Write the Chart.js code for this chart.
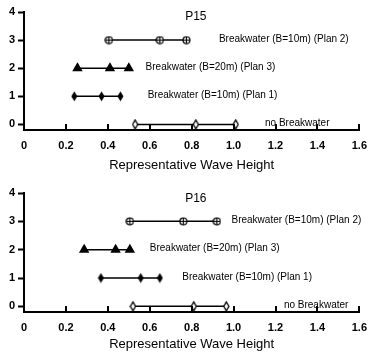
<!DOCTYPE html>
<html>
<head>
<meta charset="utf-8">
<script src="https://cdn.jsdelivr.net/npm/chart.js@4"></script>
<style>
  body { margin: 0; background: #fff; }
  .panel { position: absolute; left: 0; width: 368px; height: 176px; }
</style>
</head>
<body>
<div class="panel" style="top:0"><canvas id="p15" width="368" height="176"></canvas></div>
<div class="panel" style="top:176px"><canvas id="p16" width="368" height="176"></canvas></div>
<script>
const xTicks = [0, 0.2, 0.4, 0.6, 0.8, 1.0, 1.2, 1.4, 1.6];
const yTicks = [0, 1, 2, 3, 4];
const seriesNames = ["Breakwater (B=10m) (Plan 2)", "Breakwater (B=20m) (Plan 3)", "Breakwater (B=10m) (Plan 1)", "no Breakwater"];
const seriesLevels = [3, 2, 1, 0];

// P15
const p15Plan2 = [0.405, 0.648, 0.775];
const p15Plan3 = [0.255, 0.41, 0.50];
const p15Plan1 = [0.24, 0.37, 0.46];
const p15None = [0.53, 0.82, 1.01];
const p15LabelX = [0.93, 0.58, 0.59, 1.15];

// P16
const p16Plan2 = [0.505, 0.76, 0.92];
const p16Plan3 = [0.287, 0.437, 0.505];
const p16Plan1 = [0.367, 0.557, 0.648];
const p16None = [0.52, 0.81, 0.965];
const p16LabelX = [0.99, 0.60, 0.755, 1.24];

const FONT = "'Liberation Sans', Arial, sans-serif";

// marker images
const makeMarker = (w, h, draw) => {
  const c = document.createElement("canvas");
  c.width = w;
  c.height = h;
  draw(c.getContext("2d"), w, h);
  return c;
};
const circleCross = makeMarker(9, 9, (g, w, h) => {
  g.strokeStyle = "#000";
  g.lineWidth = 1.2;
  g.fillStyle = "#fff";
  g.beginPath();
  g.arc(4.5, 4.5, 3.5, 0, Math.PI * 2);
  g.fill();
  g.stroke();
  g.beginPath();
  g.moveTo(1, 4.5); g.lineTo(8, 4.5);
  g.moveTo(4.5, 1); g.lineTo(4.5, 8);
  g.stroke();
});
const diamondFilled = makeMarker(7, 11, (g, w, h) => {
  g.fillStyle = "#000";
  g.beginPath();
  g.moveTo(3.5, 0.5); g.lineTo(6.5, 5.5); g.lineTo(3.5, 10.5); g.lineTo(0.5, 5.5);
  g.closePath();
  g.fill();
});
const diamondOpen = makeMarker(7, 11, (g, w, h) => {
  g.fillStyle = "#fff";
  g.strokeStyle = "#000";
  g.lineWidth = 1.3;
  g.beginPath();
  g.moveTo(3.5, 1); g.lineTo(6, 5.5); g.lineTo(3.5, 10); g.lineTo(1, 5.5);
  g.closePath();
  g.fill();
  g.stroke();
});
const markers = [circleCross, "triangle", diamondFilled, diamondOpen];

const labelPlugin = {
  id: "seriesLabels",
  afterDatasetsDraw(chart, args, opts) {
    const ctx = chart.ctx;
    const xs = chart.scales.x, ys = chart.scales.y;
    ctx.save();
    ctx.fillStyle = "#000";
    ctx.textBaseline = "middle";
    ctx.textAlign = "left";
    ctx.font = "10px " + FONT;
    opts.names.forEach((n, i) => {
      ctx.fillText(n, xs.getPixelForValue(opts.xs[i]), ys.getPixelForValue(seriesLevels[i]) - 1);
    });
    ctx.font = "12px " + FONT;
    ctx.textAlign = "center";
    ctx.fillText(opts.title, xs.getPixelForValue(0.82), chart.chartArea.top + opts.titleDy);
    // x ticks pointing inward
    ctx.strokeStyle = "#000";
    ctx.lineWidth = 2;
    xs.ticks.forEach((t) => {
      const px = Math.round(xs.getPixelForValue(t.value));
      ctx.beginPath();
      ctx.moveTo(px, chart.chartArea.bottom);
      ctx.lineTo(px, chart.chartArea.bottom - 6);
      ctx.stroke();
    });
    ctx.restore();
  },
};

const makeChart = (id, title, series, labelX, padTop, padBottom, xHeight, titleDy) => {
  const datasets = series.map((vals, i) => ({
    label: seriesNames[i],
    data: vals.map((v) => ({ x: v, y: seriesLevels[i] })),
    showLine: true,
    borderColor: "#000",
    borderWidth: 1.5,
    backgroundColor: "#000",
    pointBackgroundColor: "#000",
    pointBorderColor: "#000",
    pointStyle: markers[i],
    pointRadius: 4.5,
  }));
  return new Chart(document.getElementById(id), {
    type: "scatter",
    data: { datasets: datasets },
    plugins: [labelPlugin],
    options: {
      responsive: false,
      animation: false,
      layout: { padding: { top: padTop, left: 0, right: 0, bottom: padBottom } },
      plugins: {
        legend: { display: false },
        tooltip: { enabled: false },
        seriesLabels: { names: seriesNames, xs: labelX, title: title, titleDy: titleDy },
      },
      scales: {
        x: {
          type: "linear",
          min: 0,
          max: 1.6,
          afterBuildTicks: (s) => { s.ticks = xTicks.map((v) => ({ value: v })); },
          afterFit: (s) => { s.height = xHeight; },
          border: { display: true, color: "#000", width: 2 },
          grid: { display: true, drawOnChartArea: false, drawTicks: true, tickLength: 8, tickColor: "rgba(0,0,0,0)" },
          ticks: {
            color: "#000",
            padding: 1,
            font: { family: FONT, size: 11, weight: "bold" },
            callback: (v) => (v === 0 ? "0" : v.toFixed(1)),
          },
          title: {
            display: true,
            text: "Representative Wave Height",
            color: "#000",
            font: { family: FONT, size: 13 },
            padding: { top: 2, bottom: 0 },
          },
        },
        y: {
          type: "linear",
          min: -0.2,
          max: 4,
          afterBuildTicks: (s) => { s.ticks = yTicks.map((v) => ({ value: v })); },
          afterFit: (s) => { s.width = 24; },
          border: { display: true, color: "#000", width: 2 },
          grid: { drawOnChartArea: false, drawTicks: true, tickLength: 6, tickColor: "#000", tickWidth: 2 },
          ticks: {
            color: "#000",
            padding: 3,
            font: { family: FONT, size: 11, weight: "bold" },
          },
        },
      },
    },
  });
};

makeChart("p15", "P15", [p15Plan2, p15Plan3, p15Plan1, p15None], p15LabelX, 12, 3, 43, 5);
makeChart("p16", "P16", [p16Plan2, p16Plan3, p16Plan1, p16None], p16LabelX, 17, 0, 40, 6);
</script>
</body>
</html>
